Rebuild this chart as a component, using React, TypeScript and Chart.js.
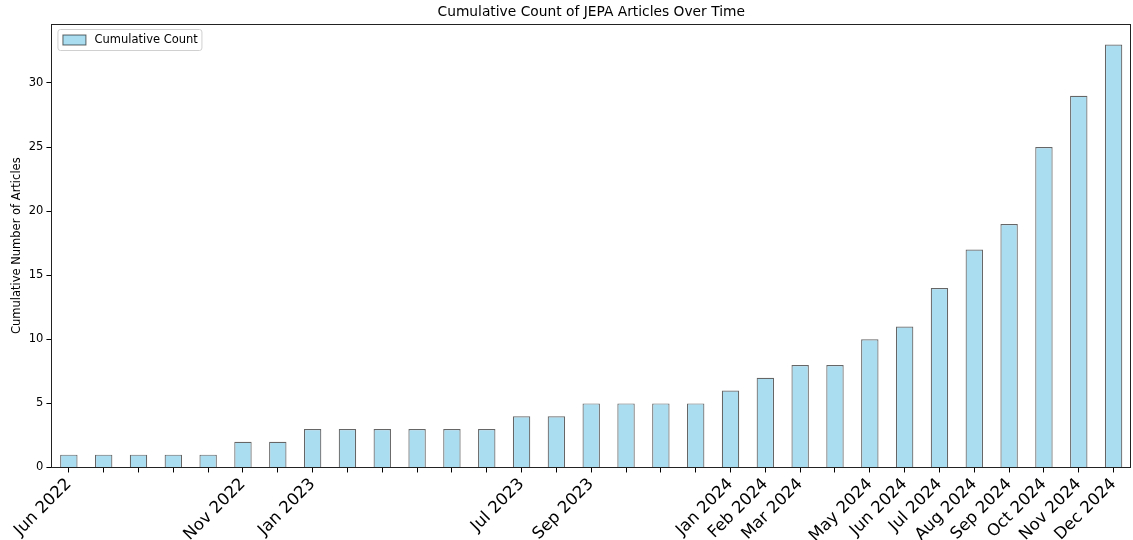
import React, { useEffect, useRef } from 'react';
import { Chart, registerables } from 'chart.js';
Chart.register(...registerables);

const months = [
  'Jun 2022', 'Jul 2022', 'Aug 2022', 'Sep 2022', 'Oct 2022', 'Nov 2022', 'Dec 2022',
  'Jan 2023', 'Feb 2023', 'Mar 2023', 'Apr 2023', 'May 2023', 'Jun 2023', 'Jul 2023',
  'Aug 2023', 'Sep 2023', 'Oct 2023', 'Nov 2023', 'Dec 2023', 'Jan 2024', 'Feb 2024',
  'Mar 2024', 'Apr 2024', 'May 2024', 'Jun 2024', 'Jul 2024', 'Aug 2024', 'Sep 2024',
  'Oct 2024', 'Nov 2024', 'Dec 2024',
];
const cumulativeCounts = [
  1, 1, 1, 1, 1, 2, 2,
  3, 3, 3, 3, 3, 3, 4,
  4, 5, 5, 5, 5, 6, 7,
  8, 8, 10, 11, 14, 17, 19,
  25, 29, 33,
];
const shownTickLabels = [
  'Jun 2022', 'Nov 2022', 'Jan 2023', 'Jul 2023', 'Sep 2023', 'Jan 2024', 'Feb 2024',
  'Mar 2024', 'May 2024', 'Jun 2024', 'Jul 2024', 'Aug 2024', 'Sep 2024', 'Oct 2024',
  'Nov 2024', 'Dec 2024',
];
const yTicks = [0, 5, 10, 15, 20, 25, 30];

const TITLE = 'Cumulative Count of JEPA Articles Over Time';
const Y_LABEL = 'Cumulative Number of Articles';
const SERIES_LABEL = 'Cumulative Count';
const FONT = "'DejaVu Sans', sans-serif";
const FILL = 'rgb(171,221,241)';
const EDGE = 'rgba(0,0,0,0.6)';

export default function App() {
  const ref = useRef<HTMLCanvasElement>(null);
  useEffect(() => {
    document.body.style.margin = '0';
    const canvas = ref.current;
    if (!canvas) return;

    const framePlugin = {
      id: 'frameAndExtras',
      afterDraw(chart: any) {
        const { ctx, chartArea } = chart;
        const { left, top, right, bottom } = chartArea;
        ctx.save();
        // frame
        ctx.strokeStyle = '#222';
        ctx.lineWidth = 1;
        ctx.strokeRect(Math.round(left) + 0.5, Math.round(top) + 0.5, Math.round(right - left) - 1, Math.round(bottom - top));
        // title
        ctx.fillStyle = '#000';
        ctx.font = `13.8px ${FONT}`;
        ctx.textAlign = 'center';
        ctx.textBaseline = 'middle';
        ctx.fillText(TITLE, (left + right) / 2, 12);
        // legend
        const lx = left + 6.5, ly = top + 5.5, lw = 144, lh = 21;
        ctx.beginPath();
        const r = 2.5;
        ctx.moveTo(lx + r, ly);
        ctx.lineTo(lx + lw - r, ly);
        ctx.quadraticCurveTo(lx + lw, ly, lx + lw, ly + r);
        ctx.lineTo(lx + lw, ly + lh - r);
        ctx.quadraticCurveTo(lx + lw, ly + lh, lx + lw - r, ly + lh);
        ctx.lineTo(lx + r, ly + lh);
        ctx.quadraticCurveTo(lx, ly + lh, lx, ly + lh - r);
        ctx.lineTo(lx, ly + r);
        ctx.quadraticCurveTo(lx, ly, lx + r, ly);
        ctx.fillStyle = 'rgba(255,255,255,0.8)';
        ctx.fill();
        ctx.strokeStyle = '#d0d0d0';
        ctx.stroke();
        ctx.fillStyle = FILL;
        ctx.fillRect(lx + 5, ly + 5.5, 23, 10);
        ctx.strokeStyle = EDGE;
        ctx.strokeRect(lx + 5, ly + 5.5, 23, 10);
        ctx.fillStyle = '#000';
        ctx.font = `11.5px ${FONT}`;
        ctx.textAlign = 'left';
        ctx.fillText(SERIES_LABEL, lx + 36.5, ly + lh / 2 + 0.5);
        ctx.restore();
      },
    };

    const chart = new Chart(canvas, {
      type: 'bar',
      data: {
        labels: months,
        datasets: [
          {
            label: SERIES_LABEL,
            data: cumulativeCounts,
            backgroundColor: FILL,
            borderColor: EDGE,
            borderWidth: 1.2,
            barPercentage: 0.5,
            categoryPercentage: 1.0,
          },
        ],
      },
      options: {
        responsive: false,
        animation: false,
        layout: { padding: { top: 24, right: 2, left: 10, bottom: -8 } },
        plugins: {
          legend: { display: false },
          title: { display: false },
          tooltip: { enabled: false },
        },
        scales: {
          x: {
            offset: true,
            grid: {
              offset: false,
              drawOnChartArea: false,
              drawTicks: true,
              tickLength: 5,
              color: '#000',
            },
            border: { display: false },
            ticks: {
              autoSkip: false,
              maxRotation: 45,
              minRotation: 45,
              padding: 2,
              color: '#000',
              font: { family: FONT, size: 16.5 },
              callback: (_v: any, i: number) => (shownTickLabels.includes(months[i]) ? months[i] : ''),
            },
          },
          y: {
            min: 0,
            max: 34.6,
            grid: {
              drawOnChartArea: false,
              drawTicks: true,
              tickLength: 5,
              color: '#000',
            },
            border: { display: false },
            afterBuildTicks: (axis: any) => {
              axis.ticks = yTicks.map((v) => ({ value: v }));
            },
            ticks: {
              padding: 3,
              color: '#000',
              font: { family: FONT, size: 11.5 },
            },
            title: {
              display: true,
              text: Y_LABEL,
              color: '#000',
              font: { family: FONT, size: 11.5 },
              padding: { top: 0, bottom: 2 },
            },
          },
        },
      },
      plugins: [framePlugin],
    });
    return () => chart.destroy();
  }, []);
  return (
    <div style={{ width: 1133, height: 540 }}>
      <canvas ref={ref} width={1133} height={540} />
    </div>
  );
}
